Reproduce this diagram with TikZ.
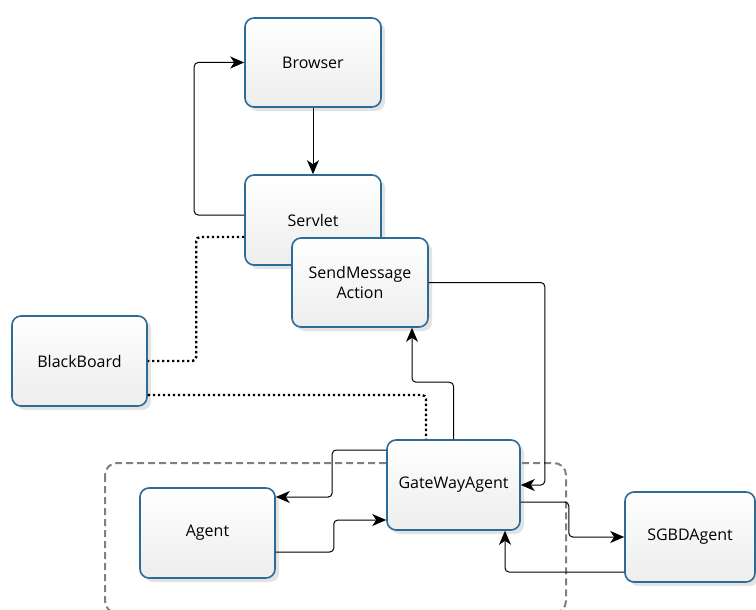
\documentclass[tikz,border=0pt]{standalone}
\usepackage{fontspec}
\setmainfont{Open Sans}
\usetikzlibrary{arrows.meta,shadows}
\definecolor{boxblue}{HTML}{2C6A98}
\tikzset{
  box/.style={draw=boxblue, line width=1.6pt, rounded corners=9pt,
    top color=white, bottom color=black!7, align=center,
    font=\fontsize{16}{19.5}\selectfont,
    drop shadow={opacity=0.22, shadow xshift=4pt, shadow yshift=-4pt},
    inner sep=0pt},
  arr/.style={draw=black, line width=1pt, rounded corners=4pt,
    -{Stealth[length=14pt,width=12pt,inset=4pt]}},
  dotline/.style={draw=black, line width=2.4pt, rounded corners=4pt,
    dash pattern=on 2.4pt off 2.6pt},
  group/.style={draw=black!50, line width=2pt, rounded corners=12pt,
    dash pattern=on 7pt off 4pt}
}
\begin{document}
\begin{tikzpicture}[x=1pt,y=-1pt]
\clip (0,0) rectangle (756,610);
\fill[white] (0,0) rectangle (756,610);
\draw[group] (105,463) rectangle (566,613);
\node[box, minimum width=136pt, minimum height=89pt] (Browser) at (313,62.5) {Browser};
\node[box, minimum width=136pt, minimum height=90pt] (Servlet) at (313,220) {Servlet};
\node[box, minimum width=136pt, minimum height=89pt] (SendMsg) at (360,282.5) {SendMessage\\Action};
\node[box, minimum width=135pt, minimum height=90pt] (BlackBoard) at (79.5,361) {BlackBoard};
\node[box, minimum width=133pt, minimum height=90pt] (GateWay) at (453.5,485) {GateWayAgent};
\node[box, minimum width=135pt, minimum height=90pt] (Agent) at (207.5,533) {Agent};
\node[box, minimum width=130pt, minimum height=90pt] (SGBD) at (690,537) {SGBDAgent};

\draw[arr] (Browser.south) -- (Servlet.north);
\draw[arr] ([yshift=5pt]Servlet.west) -- ++(-50,0) |- (Browser.west);
\draw[dotline] ([yshift=-17pt]Servlet.west) -- ++(-48,0) |- (BlackBoard.east);
\draw[dotline] ([yshift=-34pt]BlackBoard.east) -| ([xshift=-27.5pt]GateWay.north);
\draw[arr] (GateWay.north) -- ++(0,-57) -| ([xshift=52pt]SendMsg.south);
\draw[arr] (SendMsg.east) -- ++(116,0) |- (GateWay.east);
\draw[arr] ([yshift=35pt]GateWay.west) -- ++(-54,0) |- ([yshift=36pt]Agent.east);
\draw[arr] ([yshift=-19pt]Agent.east) -- ++(58,0) |- ([yshift=-35pt]GateWay.west);
\draw[arr] ([yshift=-17pt]GateWay.east) -- ++(48,0) |- (SGBD.west);
\draw[arr] ([yshift=-35pt]SGBD.west) -| ([xshift=51.5pt]GateWay.south);
\end{tikzpicture}
\end{document}
